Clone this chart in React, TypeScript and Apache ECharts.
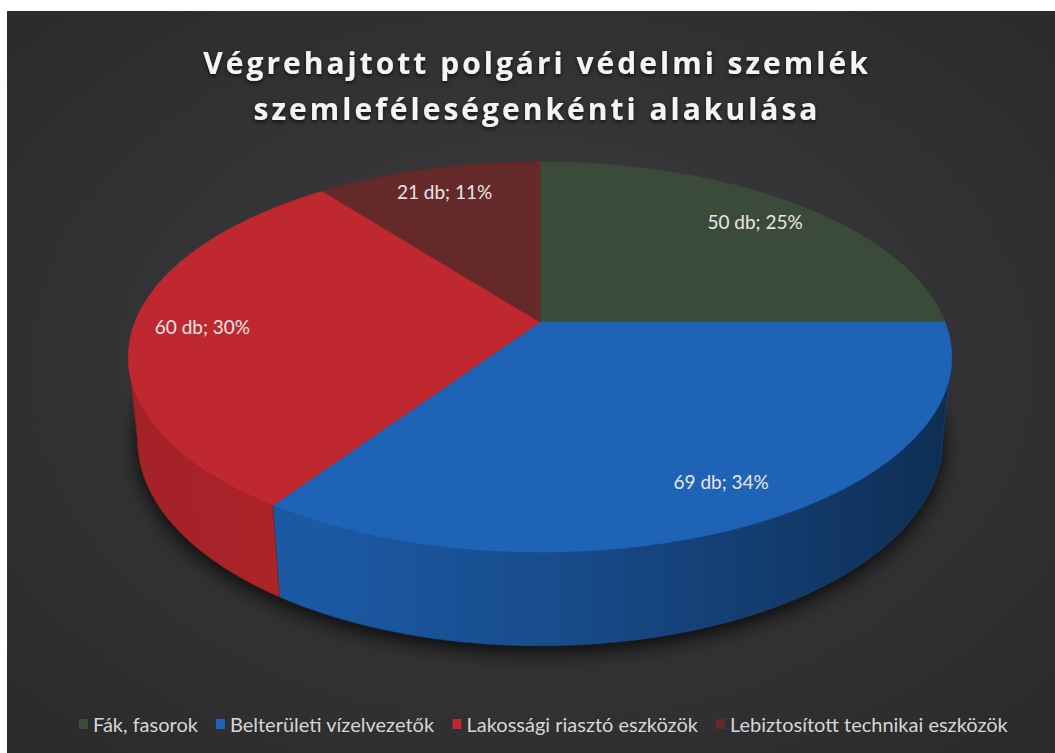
import React, { useEffect, useRef } from "react";
import * as echarts from "echarts";

const categories = [
  "Fák, fasorok",
  "Belterületi vízelvezetők",
  "Lakossági riasztó eszközök",
  "Lebiztosított technikai eszközök",
];
const values = [50, 69, 60, 21];
const percents = [25, 34, 30, 11];
const colors = ["#3a4b39", "#1f63b6", "#c0282f", "#66292a"];
const unitLabel = "db";
const titleLines = ["Végrehajtott polgári védelmi szemlék", "szemleféleségenkénti alakulása"];

// layout (chart coordinates)
const CW = 1048;
const CH = 742;
const CX = 533;
const CY = 311;
const RAD = 405;
const TILT = (27.8 * Math.PI) / 180;
const CAM = 1996;
const DEPTH = 95;
const LABEL_R = 0.83;

const sT = Math.sin(TILT);
const cT = Math.cos(TILT);

function project(theta: number, rf: number, h: number): number[] {
  const X = RAD * rf * Math.sin(theta);
  const Z = -RAD * rf * Math.cos(theta);
  const yp = Z * sT + h * cT;
  const zp = Z * cT - h * sT;
  const k = CAM / (CAM - zp);
  return [CX + X * k, CY + yp * k];
}

function shade(hex: string, f: number): string {
  const n = parseInt(hex.slice(1), 16);
  const r = Math.round(((n >> 16) & 255) * f);
  const g = Math.round(((n >> 8) & 255) * f);
  const b = Math.round((n & 255) * f);
  return `rgb(${r},${g},${b})`;
}

// visible range of the outer wall (silhouette)
function findVisible(): number[] {
  let best = Math.PI / 2;
  let bx = -Infinity;
  for (let d = 90; d <= 180; d += 0.25) {
    const t = (d * Math.PI) / 180;
    const x = project(t, 1, 0)[0];
    if (x > bx) {
      bx = x;
      best = t;
    }
  }
  return [best, 2 * Math.PI - best];
}

export default function App() {
  const ref = useRef<HTMLDivElement>(null);
  useEffect(() => {
    if (!ref.current) return;
    const chart = echarts.init(ref.current, undefined, { renderer: "svg" });
    const total = values.reduce((a, b) => a + b, 0);
    const starts: number[] = [];
    let acc = 0;
    values.forEach((v) => {
      starts.push(acc);
      acc += v;
    });
    const [visA, visB] = findVisible();
    const STEP = Math.PI / 360;

    const arc = (a0: number, a1: number, h: number): number[][] => {
      const pts: number[][] = [];
      const n = Math.max(2, Math.ceil((a1 - a0) / STEP));
      for (let i = 0; i <= n; i++) pts.push(project(a0 + ((a1 - a0) * i) / n, 1, h));
      return pts;
    };

    const left = CX - RAD;
    const right = CX + RAD;

    const sliceSeries = categories.map((name, idx) => ({
      type: "custom",
      name,
      coordinateSystem: "none",
      silent: true,
      itemStyle: { color: colors[idx] },
      data: [values[idx]],
      renderItem: (_params: any, api: any) => {
        const v = api.value(0);
        const a0 = (starts[idx] / total) * 2 * Math.PI;
        const a1 = ((starts[idx] + v) / total) * 2 * Math.PI;
        const col = colors[idx];
        const children: any[] = [];
        // wall
        const w0 = Math.max(a0, visA);
        const w1 = Math.min(a1, visB);
        if (w1 > w0) {
          const top = arc(w0, w1, 0);
          const bot = arc(w0, w1, DEPTH).reverse();
          children.push({
            type: "polygon",
            z2: 1,
            shape: { points: top.concat(bot) },
            style: {
              fill: {
                type: "linear",
                x: left,
                y: 0,
                x2: right,
                y2: 0,
                global: true,
                colorStops: [
                  { offset: 0, color: shade(col, 0.85) },
                  { offset: 0.22, color: shade(col, 0.9) },
                  { offset: 0.5, color: shade(col, 0.78) },
                  { offset: 0.8, color: shade(col, 0.6) },
                  { offset: 1, color: shade(col, 0.46) },
                ],
              },
              stroke: shade(col, 0.7),
              lineWidth: 0.6,
            },
          });
        }
        // top face
        const topPts = [project(0, 0, 0)].concat(arc(a0, a1, 0));
        children.push({
          type: "polygon",
          z2: 10,
          shape: { points: topPts },
          style: { fill: col, stroke: col, lineWidth: 0.6 },
        });
        // label
        const mid = (a0 + a1) / 2;
        const lp = project(mid, LABEL_R, 0);
        children.push({
          type: "text",
          z2: 20,
          x: lp[0],
          y: lp[1],
          style: {
            text: `${v} ${unitLabel}; ${percents[idx]}%`,
            fill: "#e9e6e6",
            fontSize: 19,
            fontFamily: "Lato, 'Open Sans', sans-serif",
            align: "center",
            verticalAlign: "middle",
          },
        });
        return { type: "group", children };
      },
    }));

    const shadowSeries = {
      type: "custom",
      name: "shadow",
      coordinateSystem: "none",
      silent: true,
      data: [total],
      renderItem: () => ({
        type: "polygon",
        z2: -10,
        shape: { points: arc(0, 2 * Math.PI, DEPTH) },
        style: {
          fill: "#1a1a1a",
          shadowBlur: 22,
          shadowColor: "rgba(0,0,0,0.85)",
          shadowOffsetY: 6,
        },
      }),
    };

    chart.setOption({
      animation: false,
      backgroundColor: {
        type: "radial",
        x: 0.5,
        y: 0.48,
        r: 0.75,
        colorStops: [
          { offset: 0, color: "#3e3e41" },
          { offset: 1, color: "#29292a" },
        ],
      },
      title: {
        text: titleLines.join("\n"),
        left: 530,
        textAlign: "center",
        top: 28,
        padding: 0,
        textStyle: {
          color: "#f4f4f4",
          fontSize: 30,
          fontWeight: "bold",
          fontFamily: "'Open Sans', sans-serif",
          lineHeight: 46,
          textShadowColor: "rgba(0,0,0,0.7)",
          textShadowBlur: 4,
          textShadowOffsetY: 2,
        },
      },
      legend: {
        data: categories,
        bottom: 14,
        left: 67,
        icon: "rect",
        itemWidth: 9,
        itemHeight: 10,
        itemGap: 18,
        textStyle: {
          color: "#d6d6d6",
          fontSize: 20,
          fontFamily: "Lato, 'Open Sans', sans-serif",
        },
      },
      series: [shadowSeries, ...sliceSeries],
    });

    const spaceTitle = () => {
      const root = ref.current;
      if (!root) return;
      root.querySelectorAll("text").forEach((t) => {
        if (titleLines.includes((t.textContent || "").trim())) {
          t.setAttribute("letter-spacing", "3");
        }
      });
    };
    chart.on("finished", spaceTitle);
    spaceTitle();
    const timer = setTimeout(spaceTitle, 50);

    return () => {
      clearTimeout(timer);
      chart.dispose();
    };
  }, []);

  return (
    <div style={{ position: "fixed", left: 0, top: 0, width: 1055, height: 753, background: "#ffffff" }}>
      <div ref={ref} style={{ position: "absolute", left: 7, top: 11, width: CW, height: CH }} />
    </div>
  );
}
